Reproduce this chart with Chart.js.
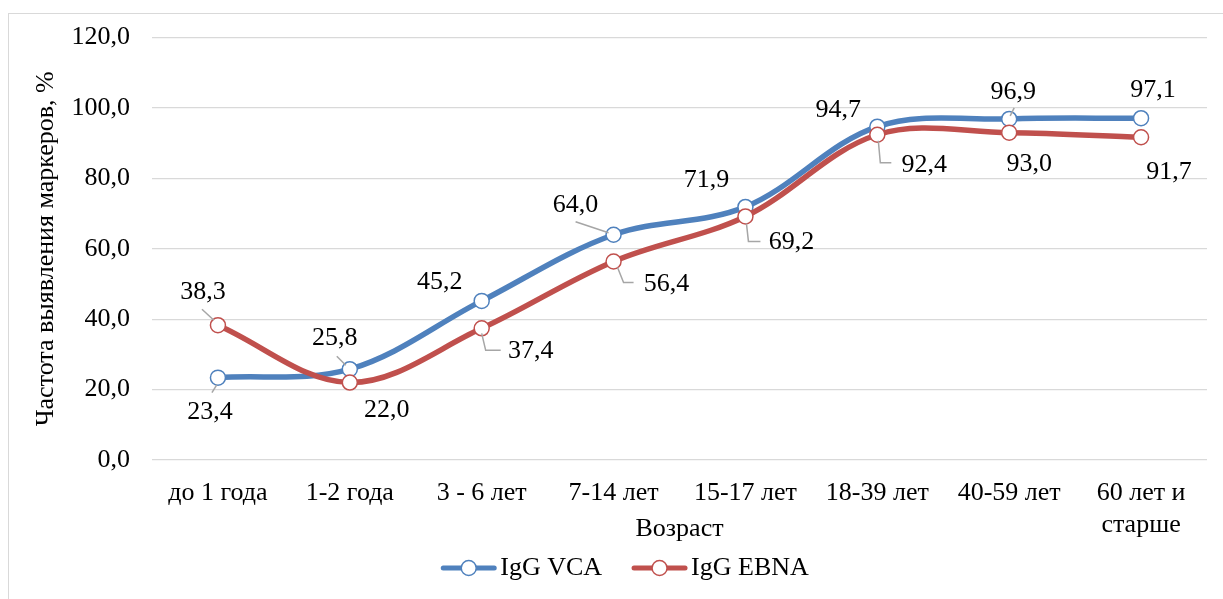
<!DOCTYPE html>
<html>
<head>
<meta charset="utf-8">
<script src="https://cdn.jsdelivr.net/npm/chart.js@4/dist/chart.umd.min.js"></script>
<style>
  html, body { margin: 0; padding: 0; background: #fff; overflow: hidden; }
  #frame { position: absolute; left: 8px; top: 13px; width: 1240px; height: 620px;
           border: 1px solid #d9d9d9; box-sizing: border-box; }
  #c { position: absolute; left: 0; top: 0; }
</style>
</head>
<body>
<div id="frame"></div>
<canvas id="c" width="1223" height="599"></canvas>
<script>
// Age groups on the x axis
const ageGroups = ['до 1 года', '1-2 года', '3 - 6 лет', '7-14 лет', '15-17 лет',
                   '18-39 лет', '40-59 лет', ['60 лет и', 'старше']];
// Detection rate of markers, %
const iggVca  = [23.4, 25.8, 45.2, 64.0, 71.9, 94.7, 96.9, 97.1];
const iggEbna = [38.3, 22.0, 37.4, 56.4, 69.2, 92.4, 93.0, 91.7];
const seriesNames = ['IgG VCA', 'IgG EBNA'];
const yTickValues = [0, 20, 40, 60, 80, 100, 120];

const yTitle = 'Частота выявления маркеров, %';
const xTitle = 'Возраст';

const FONT = "'Liberation Serif', 'Times New Roman', serif";
const FS = 26;
const BLUE = '#4f81bd';
const RED = '#c0504d';
const LEADER = '#a6a6a6';

// Value label placement relative to each point (pixels) and optional leader polyline
const vcaLabelPlace = [
  { dx: -8,  dy: 35,  leader: [[-1, 7], [-6, 15]] },
  { dx: -15, dy: -31, leader: [[-4, -4], [-13, -13]] },
  { dx: -42, dy: -19 },
  { dx: -38, dy: -30, leader: [[-5, -2], [-38, -13]] },
  { dx: -39, dy: -27 },
  { dx: -39, dy: -16 },
  { dx: 4,   dy: -27, leader: [[1, -3], [5, -11]] },
  { dx: 12,  dy: -28 }
];
const ebnaLabelPlace = [
  { dx: -15, dy: -33, leader: [[-4, -5], [-16, -16]] },
  { dx: 37,  dy: 28 },
  { dx: 49,  dy: 23, leader: [[0, 5], [4, 22], [19, 22]] },
  { dx: 53,  dy: 23, leader: [[4, 6], [10, 21], [20, 21]] },
  { dx: 46,  dy: 26, leader: [[1, 7], [3, 25], [15, 25]] },
  { dx: 47,  dy: 30, leader: [[1, 6], [3, 28], [14, 28]] },
  { dx: 20,  dy: 32 },
  { dx: 28,  dy: 35 }
];
const labelPlaces = [vcaLabelPlace, ebnaLabelPlace];

const fmt = v => v.toFixed(1).replace('.', ',');

const valueLabels = {
  id: 'valueLabels',
  afterDatasetsDraw(chart) {
    const ctx = chart.ctx;
    ctx.save();
    ctx.font = FS + 'px ' + FONT;
    ctx.textAlign = 'center';
    ctx.textBaseline = 'middle';
    chart.data.datasets.forEach((ds, i) => {
      const meta = chart.getDatasetMeta(i);
      meta.data.forEach((pt, j) => {
        const p = labelPlaces[i][j];
        if (p.leader) {
          ctx.beginPath();
          ctx.strokeStyle = LEADER;
          ctx.lineWidth = 1.5;
          p.leader.forEach((q, k) => {
            const x = pt.x + q[0], y = pt.y + q[1];
            if (k === 0) ctx.moveTo(x, y); else ctx.lineTo(x, y);
          });
          ctx.stroke();
        }
        ctx.fillStyle = '#000';
        ctx.fillText(fmt(ds.data[j]), pt.x + p.dx, pt.y + p.dy);
      });
    });
    ctx.restore();
  }
};

// Legend: line sample with a hollow marker, then the series name
const lineLegend = {
  id: 'lineLegend',
  afterDraw(chart) {
    const ctx = chart.ctx;
    ctx.save();
    ctx.font = FS + 'px ' + FONT;
    ctx.textBaseline = 'middle';
    ctx.textAlign = 'left';
    const sample = 55, gapText = 4, gapItem = 30;
    const items = chart.data.datasets.map(ds => ({
      label: ds.label, color: ds.borderColor, w: ctx.measureText(ds.label).width
    }));
    let total = 0;
    items.forEach((it, k) => { total += sample + gapText + it.w + (k ? gapItem : 0); });
    const cx = 625, y = 568;
    let x = cx - total / 2;
    items.forEach((it, k) => {
      if (k) x += gapItem;
      ctx.beginPath();
      ctx.strokeStyle = it.color;
      ctx.lineWidth = 5;
      ctx.lineCap = 'round';
      ctx.moveTo(x + 2, y); ctx.lineTo(x + sample - 2, y);
      ctx.stroke();
      ctx.beginPath();
      ctx.arc(x + sample / 2, y, 7.5, 0, Math.PI * 2);
      ctx.fillStyle = '#fff';
      ctx.fill();
      ctx.lineWidth = 1.5;
      ctx.stroke();
      x += sample + gapText;
      ctx.fillStyle = '#000';
      ctx.fillText(it.label, x, y);
      x += it.w;
    });
    ctx.restore();
  }
};

new Chart(document.getElementById('c'), {
  type: 'line',
  data: {
    labels: ageGroups,
    datasets: [
      { label: seriesNames[0], data: iggVca, borderColor: BLUE, backgroundColor: '#fff',
        borderWidth: 5.5, tension: 0.35, pointRadius: 7.5, pointHoverRadius: 7.5,
        pointBorderWidth: 1.5, pointBackgroundColor: '#fff', pointBorderColor: BLUE, order: 1 },
      { label: seriesNames[1], data: iggEbna, borderColor: RED, backgroundColor: '#fff',
        borderWidth: 5.5, tension: 0.35, pointRadius: 7.5, pointHoverRadius: 7.5,
        pointBorderWidth: 1.5, pointBackgroundColor: '#fff', pointBorderColor: RED, order: 0 }
    ]
  },
  options: {
    responsive: false,
    animation: false,
    devicePixelRatio: 1,
    layout: { padding: { left: 0, right: 16, top: 32, bottom: 54 } },
    plugins: { legend: { display: false }, tooltip: { enabled: false } },
    scales: {
      x: {
        offset: true,
        grid: { display: false, drawTicks: false },
        border: { display: false },
        ticks: { color: '#000', font: { family: FONT, size: FS }, padding: 18, maxRotation: 0, autoSkip: false },
        title: { display: true, text: xTitle, color: '#000', font: { family: FONT, size: FS },
                 padding: { top: 0, bottom: 0 } },
        afterFit(scale) { scale.height = 85; }
      },
      y: {
        min: 0, max: 120,
        afterBuildTicks(scale) { scale.ticks = yTickValues.map(v => ({ value: v })); },
        grid: { color: '#d9d9d9', lineWidth: 1.3, drawTicks: false },
        border: { display: false },
        ticks: { color: '#000', font: { family: FONT, size: FS }, padding: 22,
                 callback: v => fmt(v) },
        title: { display: true, text: yTitle, color: '#000', font: { family: FONT, size: FS },
                 padding: { top: 31, bottom: 0 } },
        afterFit(scale) { scale.width = 152; }
      }
    }
  },
  plugins: [valueLabels, lineLegend]
});
</script>
</body>
</html>
